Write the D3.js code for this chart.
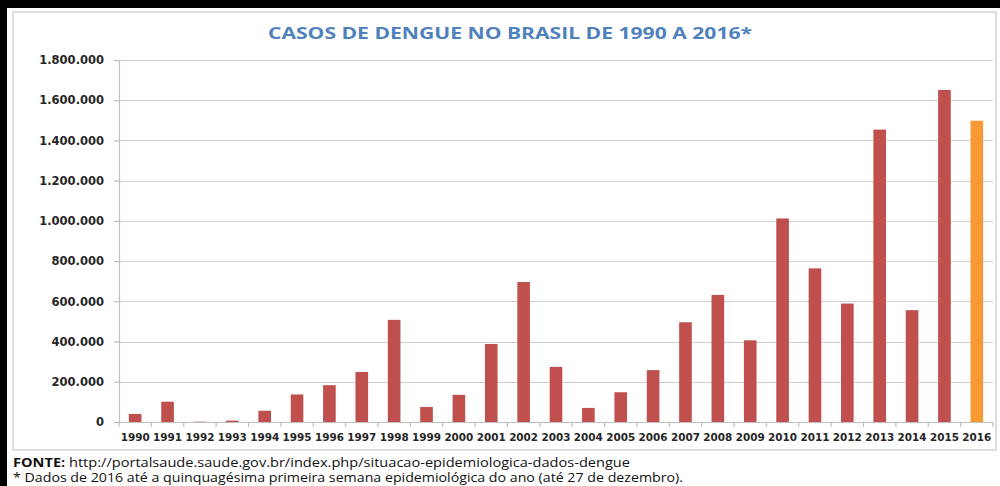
<!DOCTYPE html>
<html>
<head>
<meta charset="utf-8">
<script src="https://cdn.jsdelivr.net/npm/d3@7/dist/d3.min.js"></script>
<style>
  html, body { margin: 0; padding: 0; background: #fff; }
  svg { display: block; }
</style>
</head>
<body>
<svg id="chart" width="1000" height="486"></svg>
<script>
// ---- data ----
const years = ["1990","1991","1992","1993","1994","1995","1996","1997","1998","1999","2000","2001","2002","2003","2004","2005","2006","2007","2008","2009","2010","2011","2012","2013","2014","2015","2016"];
const cases = [40000,101000,1700,7000,56000,137000,183000,249000,508000,75000,135000,388000,696000,274000,70000,148000,258000,496000,632000,406000,1012000,764000,589000,1454000,556000,1651000,1498000];
const highlightYear = "2016";
const yTicks = [0,200000,400000,600000,800000,1000000,1200000,1400000,1600000,1800000];
const titleText = "CASOS DE DENGUE NO BRASIL DE 1990 A 2016*";
const sourceLabel = "FONTE:";
const sourceUrl = " http://portalsaude.saude.gov.br/index.php/situacao-epidemiologica-dados-dengue";
const noteText = "* Dados de 2016 até a quinquagésima primeira semana epidemiológica do ano (até 27 de dezembro).";

// ---- layout ----
const svg = d3.select("#chart");
const plot = { left: 119, right: 993, top: 60, bottom: 422 };
const axisColor = "#bfbfbf";
const gridColor = "#cfcfcf";
const labelColor = "#262626";

// frame: black strips + inner light box
svg.append("rect").attr("x", 0).attr("y", 0).attr("width", 1000).attr("height", 486).attr("fill", "#fff");
svg.append("rect").attr("x", 13).attr("y", 12).attr("width", 983).attr("height", 438)
  .attr("fill", "#fff").attr("stroke", "#d4d4d4").attr("stroke-width", 1.5);
svg.append("rect").attr("x", 0).attr("y", 0).attr("width", 1000).attr("height", 8).attr("fill", "#000");
svg.append("rect").attr("x", 0).attr("y", 0).attr("width", 7).attr("height", 486).attr("fill", "#000");

const fmt = d3.formatLocale({ decimal: ",", thousands: ".", grouping: [3], currency: ["", ""] }).format(",d");

const x = d3.scaleBand().domain(years).range([plot.left, plot.right]).paddingInner(0.61).paddingOuter(0.305);
const y = d3.scaleLinear().domain([0, 1800000]).range([plot.bottom, plot.top]);

// gridlines
svg.append("g").selectAll("line").data(yTicks.filter(d => d > 0)).join("line")
  .attr("x1", plot.left).attr("x2", plot.right)
  .attr("y1", d => Math.round(y(d)) + 0.5).attr("y2", d => Math.round(y(d)) + 0.5)
  .attr("stroke", gridColor).attr("stroke-width", 1.2);

// y axis
const yAxis = svg.append("g").attr("transform", `translate(${plot.left},0)`)
  .call(d3.axisLeft(y).tickValues(yTicks).tickFormat(fmt).tickSize(5).tickPadding(10));
yAxis.select(".domain").attr("stroke", axisColor).attr("stroke-width", 1.2);
yAxis.selectAll(".tick line").attr("stroke", axisColor).attr("stroke-width", 1.2);
yAxis.selectAll(".tick text").attr("fill", labelColor)
  .style("font-family", "'DejaVu Sans', sans-serif").style("font-weight", "bold").style("font-size", "11.5px");

// bars
svg.append("g").selectAll("rect").data(years).join("rect")
  .attr("x", d => x(d))
  .attr("width", x.bandwidth())
  .attr("y", (d, i) => y(cases[i]))
  .attr("height", (d, i) => y(0) - y(cases[i]))
  .attr("fill", d => d === highlightYear ? "#f79a33" : "#c0504d");

// x axis
const boundaries = years.map(d => x(d) - x.step() * x.paddingInner() / 2).concat([plot.right]);
const xg = svg.append("g");
xg.append("line").attr("x1", plot.left).attr("x2", plot.right)
  .attr("y1", plot.bottom + 0.5).attr("y2", plot.bottom + 0.5)
  .attr("stroke", axisColor).attr("stroke-width", 1.2);
xg.selectAll("line.tk").data(boundaries).join("line").attr("class", "tk")
  .attr("x1", d => d).attr("x2", d => d)
  .attr("y1", plot.bottom).attr("y2", plot.bottom + 5)
  .attr("stroke", axisColor).attr("stroke-width", 1.2);
xg.selectAll("text").data(years).join("text")
  .attr("x", d => x(d) + x.bandwidth() / 2)
  .attr("y", 441)
  .attr("text-anchor", "middle")
  .attr("fill", labelColor)
  .attr("textLength", 29).attr("lengthAdjust", "spacingAndGlyphs")
  .style("font-family", "'DejaVu Sans', sans-serif").style("font-weight", "bold").style("font-size", "10.5px")
  .text(d => d);

// title
svg.append("text").attr("x", 510).attr("y", 39).attr("text-anchor", "middle")
  .attr("fill", "#4f81bd")
  .attr("textLength", 484).attr("lengthAdjust", "spacingAndGlyphs")
  .style("font-family", "'Open Sans', sans-serif").style("font-weight", "bold").style("font-size", "16px")
  .text(titleText);

// footer
const f1 = svg.append("text").attr("x", 13).attr("y", 467).attr("fill", "#111")
  .attr("textLength", 617).attr("lengthAdjust", "spacingAndGlyphs")
  .style("font-family", "'Open Sans', sans-serif").style("font-size", "12.5px");
f1.append("tspan").style("font-weight", "bold").text(sourceLabel);
f1.append("tspan").text(sourceUrl);
svg.append("text").attr("x", 13).attr("y", 482).attr("fill", "#111")
  .attr("textLength", 670).attr("lengthAdjust", "spacingAndGlyphs")
  .style("font-family", "'Open Sans', sans-serif").style("font-size", "12.5px")
  .text(noteText);
</script>
</body>
</html>
